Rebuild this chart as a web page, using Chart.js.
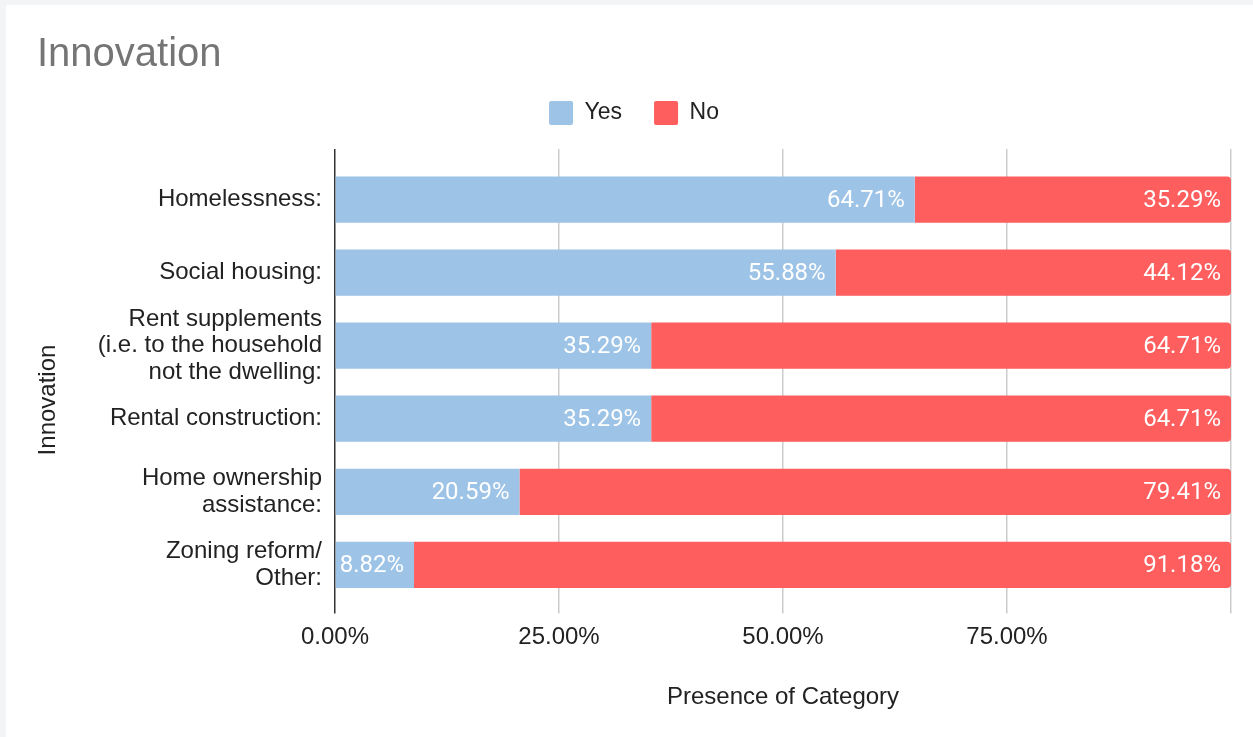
<!DOCTYPE html>
<html>
<head>
<meta charset="utf-8">
<script src="https://cdn.jsdelivr.net/npm/chart.js@4.4.1/dist/chart.umd.min.js"></script>
<style>
  html, body { margin: 0; padding: 0; background: #f3f4f6; }
  #card { position: absolute; left: 6px; top: 5px; width: 1247px; height: 732px; background: #fff; }
  canvas { display: block; }
</style>
</head>
<body>
<div id="card"><canvas id="myChart" width="1247" height="732"></canvas></div>
<script>
const categories = [
  "Homelessness:",
  "Social housing:",
  ["Rent supplements", "(i.e. to the household", "not the dwelling:"],
  "Rental construction:",
  ["Home ownership", "assistance:"],
  ["Zoning reform/", "Other:"],
];
const yesValues = [64.71, 55.88, 35.29, 35.29, 20.59, 8.82];
const noValues = [35.29, 44.12, 64.71, 64.71, 79.41, 91.18];
const xTicks = [0, 25, 50, 75, 100];

const sans = "'Liberation Sans', Arial, sans-serif";

// white percentage labels inside the end of each bar
const barLabels = {
  id: "barLabels",
  afterDatasetsDraw(chart) {
    const ctx = chart.ctx;
    ctx.save();
    ctx.fillStyle = "#ffffff";
    ctx.font = "24px Roboto";
    ctx.textAlign = "right";
    ctx.textBaseline = "middle";
    chart.data.datasets.forEach((ds, i) => {
      chart.getDatasetMeta(i).data.forEach((bar, j) => {
        ctx.fillText(ds.data[j].toFixed(2) + "%", bar.x - 10, bar.y + 1);
      });
    });
    ctx.restore();
  },
};

// vertical axis title, placed like the original
const yTitle = {
  id: "yTitle",
  afterDraw(chart) {
    const ctx = chart.ctx;
    ctx.save();
    ctx.translate(42, 395);
    ctx.rotate(-Math.PI / 2);
    ctx.fillStyle = "#222222";
    ctx.font = "24px " + sans;
    ctx.textAlign = "center";
    ctx.textBaseline = "middle";
    ctx.fillText("Innovation", 0, 0);
    ctx.restore();
  },
};

const gridColor = (c) => (c.tick && c.tick.value === 0 ? "#333333" : "#cccccc");

const chart = new Chart(document.getElementById("myChart").getContext("2d"), {
  type: "bar",
  data: {
    labels: categories,
    datasets: [
      {
        label: "Yes",
        data: yesValues,
        backgroundColor: "#9dc3e6",
        borderRadius: 0,
        barPercentage: 0.633,
        categoryPercentage: 1,
      },
      {
        label: "No",
        data: noValues,
        backgroundColor: "#ff5e5e",
        borderRadius: 4,
        barPercentage: 0.633,
        categoryPercentage: 1,
      },
    ],
  },
  options: {
    indexAxis: "y",
    responsive: false,
    animation: false,
    layout: { padding: { left: 31, right: 22, top: 0, bottom: 0 } },
    plugins: {
      title: {
        display: true,
        text: "Innovation",
        align: "start",
        color: "#757575",
        font: { family: sans, size: 40, weight: "normal" },
        padding: { top: 26, bottom: -10 },
      },
      legend: {
        display: true,
        labels: {
          color: "#222222",
          font: { family: sans, size: 23 },
          boxWidth: 24,
          boxHeight: 24,
          useBorderRadius: true,
          borderRadius: 2,
          padding: 32,
        },
      },
      tooltip: { enabled: false },
    },
    scales: {
      x: {
        stacked: true,
        min: 0,
        max: 100,
        afterBuildTicks: (scale) => {
          scale.ticks = xTicks.map((v) => ({ value: v }));
        },
        border: { display: false },
        grid: { color: gridColor, tickLength: 12, lineWidth: 1.5 },
        ticks: {
          color: "#222222",
          font: { family: sans, size: 24 },
          padding: 10,
          maxRotation: 0,
          autoSkip: false,
          callback: (v) => (v === 100 ? "" : v.toFixed(2) + "%"),
        },
        title: {
          display: true,
          text: "Presence of Category",
          color: "#222222",
          font: { family: sans, size: 24 },
          padding: { top: 21, bottom: 25 },
        },
      },
      x2: {
        position: "top",
        min: 0,
        max: 100,
        afterBuildTicks: (scale) => {
          scale.ticks = xTicks.map((v) => ({ value: v }));
        },
        border: { display: false },
        grid: { color: gridColor, tickLength: 14, drawOnChartArea: false, lineWidth: 1.5 },
        ticks: { display: false },
        title: { display: true, text: "", font: { size: 1, lineHeight: 1 }, padding: { top: 0, bottom: 13 } },
      },
      y: {
        stacked: true,
        border: { display: false },
        grid: { display: false },
        afterFit: (scale) => {
          scale.width = 298;
        },
        ticks: {
          color: "#222222",
          autoSkip: false,
          font: { family: sans, size: 24, lineHeight: 1.1 },
          padding: 5,
        },
      },
    },
  },
  plugins: [barLabels, yTitle],
});
</script>
</body>
</html>
